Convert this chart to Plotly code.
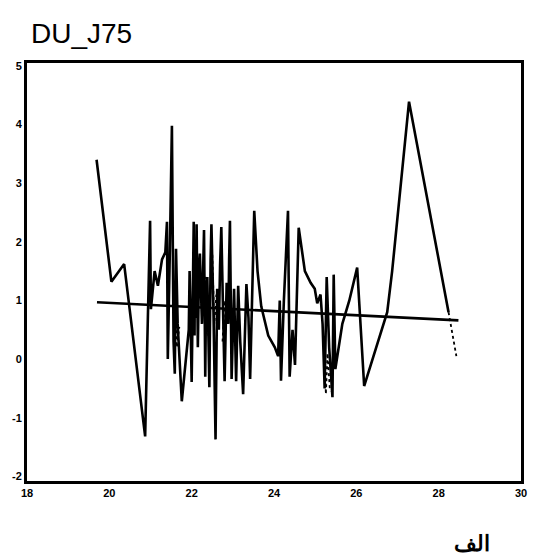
import plotly.graph_objects as go

# Main series (solid)
main_x = [19.69, 20.05, 20.36, 20.87, 20.99, 21.01, 21.10, 21.18, 21.28, 21.36,
          21.40, 21.42, 21.47, 21.52, 21.56, 21.59, 21.62, 21.66, 21.76, 21.88,
          21.93, 21.95, 22.00, 22.05, 22.07, 22.08, 22.10, 22.12, 22.15, 22.18, 22.20, 22.25, 22.28, 22.30,
          22.33, 22.35, 22.38, 22.43, 22.46, 22.48, 22.53, 22.58, 22.62, 22.66, 22.69, 22.72, 22.76,
          22.80, 22.85, 22.89, 22.91, 22.93, 22.97, 23.03, 23.08, 23.13, 23.18, 23.25,
          23.33, 23.38, 23.42, 23.52, 23.60, 23.69, 23.86, 24.02, 24.10, 24.14,
          24.17, 24.24, 24.34, 24.38, 24.45, 24.51, 24.60, 24.75, 24.89, 24.99,
          25.05, 25.13, 25.18, 25.23, 25.28, 25.34, 25.42, 25.45, 25.49, 25.66,
          25.83, 26.02, 26.19, 26.75, 26.87, 27.28, 28.24]
main_y = [3.40, 1.32, 1.62, -1.32, 2.36, 0.85, 1.50, 1.25, 1.70, 1.82,
          2.34, 0.00, 1.85, 3.98, 0.30, -0.25, 1.88, 0.60, -0.72, 0.20,
          0.50, 1.50, -0.39, 2.34, 0.40, 1.90, 0.70, 2.30, 0.20, 1.60, 1.80, 0.60, 1.90, 2.20,
          -0.30, 1.10, 1.40, -0.48, 1.70, 2.30, 0.80, -1.37, 1.20, 0.50, 1.60, 2.25, 0.90,
          -0.38, 1.30, 0.60, 1.70, 2.36, -0.34, 1.20, -0.38, 1.25, 0.30, -0.60,
          1.28, 0.70, -0.34, 2.53, 1.50, 0.90, 0.40, 0.20, 0.05, 1.00,
          -0.37, 1.00, 2.53, -0.30, 0.50, -0.10, 2.24, 1.50, 1.30, 1.20,
          0.95, 1.10, 0.60, -0.50, 1.40, 0.20, -0.65, 1.44, -0.17, 0.60,
          1.00, 1.56, -0.46, 0.80, 1.50, 4.39, 0.80]

# Secondary series (dotted), None marks gaps
dot_x = [21.60, 21.64, 21.70, None, 22.20, 22.24, 22.35, 22.40, 22.50, 22.55, 22.60,
         None, 22.75, 22.80, 22.90, None, 25.22, 25.26, 25.30, 25.36, None, 28.24, 28.43]
dot_y = [0.90, 0.20, 0.55, None, 1.55, 0.90, 1.40, 0.40, 1.80, 0.60, 1.10,
         None, 0.30, 1.00, 0.75, None, 0.20, -0.60, 0.10, -0.55, None, 0.80, 0.05]

# Trend line
trend_x = [19.70, 28.48]
trend_y = [0.97, 0.66]

x_ticks = [18, 20, 22, 24, 26, 28, 30]
y_ticks = [-2, -1, 0, 1, 2, 3, 4, 5]

fig = go.Figure()
fig.add_trace(go.Scatter(x=main_x, y=main_y, mode="lines",
                         line=dict(color="black", width=2.6), showlegend=False))
fig.add_trace(go.Scatter(x=dot_x, y=dot_y, mode="lines", connectgaps=False,
                         line=dict(color="black", width=1.8, dash="dot"), showlegend=False))
fig.add_trace(go.Scatter(x=trend_x, y=trend_y, mode="lines",
                         line=dict(color="black", width=2.6), showlegend=False))

fig.update_layout(
    width=533, height=556,
    margin=dict(l=27, r=6, t=63, b=75),
    paper_bgcolor="white", plot_bgcolor="white",
    font=dict(family="Liberation Sans, Arial, sans-serif", color="black"),
    xaxis=dict(range=[18, 30], tickvals=x_ticks, ticktext=[str(v) for v in x_ticks],
               showgrid=False, zeroline=False, showline=True, linewidth=3,
               linecolor="black", mirror=True, ticks="",
               tickfont=dict(size=11, weight="bold")),
    yaxis=dict(range=[-2.08, 5.05], tickvals=y_ticks, ticktext=[str(v) for v in y_ticks],
               showgrid=False, zeroline=False, showline=True, linewidth=3,
               linecolor="black", mirror=True, ticks="",
               tickfont=dict(size=11, weight="bold")),
    annotations=[
        dict(text="DU_J75", xref="paper", yref="paper", x=0.004, y=1.112,
             xanchor="left", yanchor="top", showarrow=False,
             font=dict(size=28, color="black")),
        dict(text="الف", xref="paper", yref="paper", x=0.90, y=-0.150,
             xanchor="center", yanchor="middle", showarrow=False,
             font=dict(size=22, color="black", weight="bold")),
    ],
)

fig.write_html("out.html", config={"displayModeBar": False},
               post_script="document.body.style.margin='0';document.body.style.overflow='hidden';")
